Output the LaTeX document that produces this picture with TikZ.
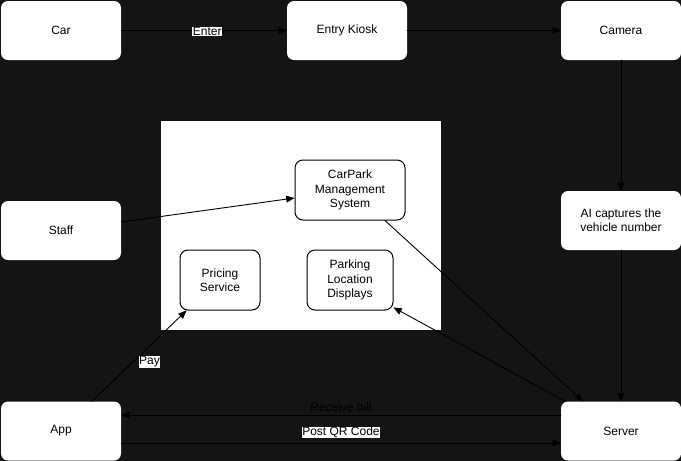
\documentclass[tikz,border=0pt]{standalone}
\usepackage{fontspec}
\setmainfont{Liberation Sans}
\usepackage{pgf,tikz}
\usetikzlibrary{arrows}
\definecolor{bgdark}{HTML}{141414}

\begin{document}
\begin{tikzpicture}[line cap=round,line join=round,>=triangle 45,x=1pt,y=-1pt,
  every node/.style={font=\fontsize{12}{14.4}\selectfont},
  outer/.style={fill=white,rounded corners=7pt,minimum width=120pt,minimum height=59pt,inner sep=0pt},
  inner/.style={draw=black,line width=1pt,fill=white,rounded corners=8pt,inner sep=0pt,align=center},
  link/.style={->,line width=0.9pt,black},
  tag/.style={fill=white,inner sep=0.5pt}]
\useasboundingbox (0,0) rectangle (681,461);
\fill [bgdark] (0,0) rectangle (681,461);
\fill [white] (161,121) rectangle (441,330);
\node [outer] (car) at (61,30.5) {Car};
\node [outer] (kiosk) at (347,30.5) {Entry Kiosk};
\node [outer] (camera) at (621,30.5) {Camera};
\node [outer] (staff) at (61,230.5) {Staff};
\node [outer,align=center] (ai) at (621,220.5) {AI captures the\\vehicle number};
\node [outer] (app) at (61,431) {App};
\node [outer] (server) at (621,431) {Server};
\node [inner,minimum width=110pt,minimum height=60pt] (cms) at (350,190) {CarPark\\Management\\System};
\node [inner,minimum width=80pt,minimum height=60pt] (pricing) at (220,280) {Pricing\\Service};
\node [inner,minimum width=86pt,minimum height=60pt] (displays) at (350,280) {Parking\\Location\\Displays};
\draw [link] (car) -- node [tag,pos=0.52,yshift=-1pt] {Enter} (kiosk);
\draw [link] (kiosk) -- (camera);
\draw [link] (camera) -- (ai);
\draw [link] (ai) -- (server);
\draw [link] ([yshift=8.5pt]staff.east) -- ([yshift=-8pt]cms.west);
\draw [link] ([xshift=35pt]cms.south) -- ([xshift=-38pt]server.north);
\draw [link] ([xshift=-56pt]server.north) -- ([yshift=3pt]displays.south east);
\draw [link] ([xshift=31pt]app.north) -- node [tag,pos=0.45,xshift=15pt,yshift=-1.5pt] {Pay} ([xshift=7pt]pricing.south west);
\draw [link] ([yshift=16pt]server.west) -- node [above=3pt,black,inner sep=0pt] {Receive bill} ([yshift=16pt]app.east);
\draw [link] ([yshift=-12pt]app.east) -- node [tag,yshift=10.5pt] {Post QR Code} ([yshift=-12pt]server.west);
%\draw [white] (cms) -- (pricing);
\end{tikzpicture}
\end{document}
